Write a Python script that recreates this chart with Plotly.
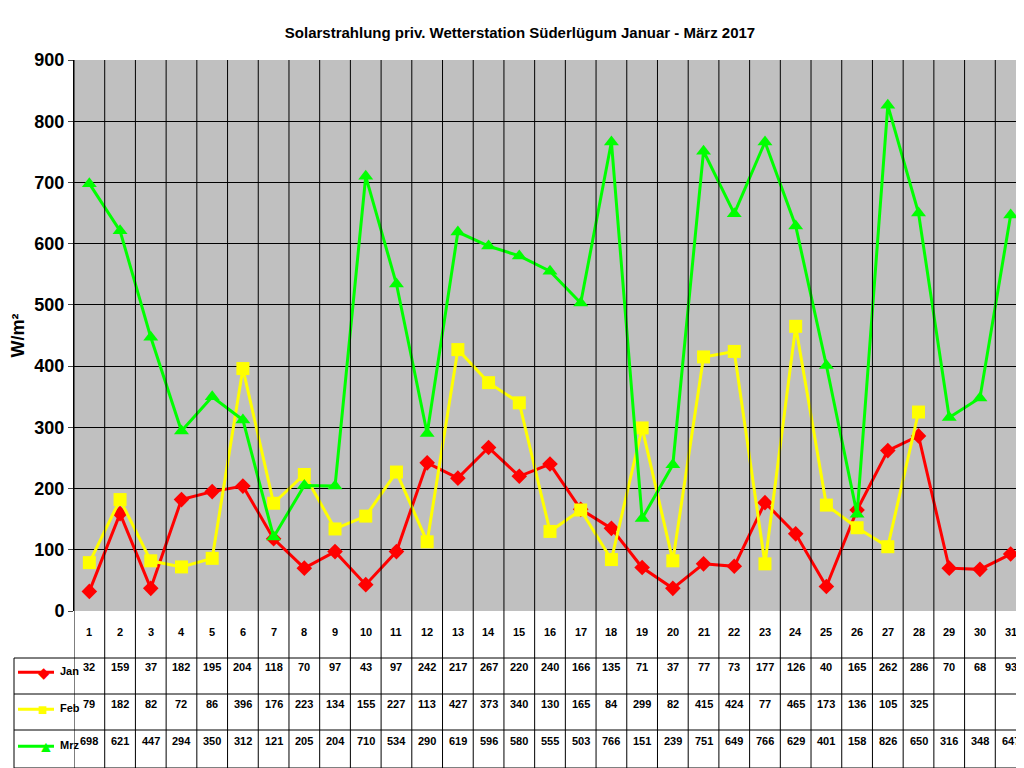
import plotly.graph_objects as go

days = list(range(1, 32))
jan = [32,159,37,182,195,204,118,70,97,43,97,242,217,267,220,240,166,135,71,37,77,73,177,126,40,165,262,286,70,68,93]
feb = [79,182,82,72,86,396,176,223,134,155,227,113,427,373,340,130,165,84,299,82,415,424,77,465,173,136,105,325]
mrz = [698,621,447,294,350,312,121,205,204,710,534,290,619,596,580,555,503,766,151,239,751,649,766,629,401,158,826,650,316,348,647]

series = [("Jan", jan, "#ff0000", "diamond", "◆", 12),
          ("Feb", feb, "#ffff00", "square", "■", 13),
          ("Mrz", mrz, "#00ff00", "triangle-up", "▲", 13)]

fig = go.Figure()
for name, vals, col, sym, _, sz in series:
    fig.add_trace(go.Scatter(x=days[:len(vals)], y=vals, mode="lines+markers", name=name,
                             line=dict(color=col, width=3),
                             marker=dict(symbol=sym, size=sz, color=col), showlegend=False))

def px2y(p):
    return (603 - p) / 551
def px2x(p):
    return (p - 66) / 952

shapes = []
yb = px2y(760)
for i in range(32):
    shapes.append(dict(type="line", xref="x", yref="paper", x0=i + 0.5, x1=i + 0.5,
                       y0=yb, y1=1, line=dict(color="black", width=1)))
for p in [650, 686, 722, 760]:
    shapes.append(dict(type="line", xref="paper", yref="paper", x0=px2x(6), x1=1,
                       y0=px2y(p), y1=px2y(p), line=dict(color="black", width=1)))
shapes.append(dict(type="line", xref="paper", yref="paper", x0=px2x(6), x1=px2x(6),
                   y0=yb, y1=px2y(650), line=dict(color="black", width=1)))

ann = []
f = dict(family="Arial", size=11, color="black")
for d in days:
    ann.append(dict(x=d, y=px2y(632), xref="x", yref="paper", text="<b>%d</b>" % d,
                    showarrow=False, font=f))
rows = [667, 704, 741]
for (name, vals, col, sym, glyph, sz), rp in zip(series, rows):
    yy = px2y(rp)
    for d, v in zip(days, vals):
        ann.append(dict(x=d, y=yy, xref="x", yref="paper", text="<b>%d</b>" % v,
                        showarrow=False, font=f))
    shapes.append(dict(type="line", xref="paper", yref="paper", x0=px2x(10), x1=px2x(46),
                       y0=yy + 0.005, y1=yy + 0.005, line=dict(color=col, width=3)))
    ann.append(dict(x=px2x(28), y=yy + 0.005, xref="paper", yref="paper", text=glyph,
                    showarrow=False, font=dict(size=sz + 3, color=col), yanchor="middle"))
    ann.append(dict(x=px2x(50), y=yy - 0.008, xref="paper", yref="paper", text="<b>%s</b>" % name,
                    showarrow=False, xanchor="left", font=f))

fig.update_layout(
    width=1024, height=768, paper_bgcolor="white", plot_bgcolor="#c0c0c0",
    margin=dict(l=66, r=6, t=52, b=165, autoexpand=False),
    title=dict(text="<b>Solarstrahlung priv. Wetterstation Süderlügum Januar - März 2017</b>",
               x=0.5, xanchor="center", y=0.975, font=dict(family="Arial", size=15, color="black")),
    xaxis=dict(range=[0.5, 31.5], showticklabels=False, showgrid=False, zeroline=False,
               showline=False, ticks="", automargin=False),
    yaxis=dict(range=[0, 900], dtick=100, showgrid=True, gridcolor="black", gridwidth=1,
               zeroline=False, showline=True, linecolor="black", ticks="outside", ticklen=5,
               automargin=False,
               tickfont=dict(family="Arial", size=18, color="black"),
               title=dict(text="<b>W/m²</b>", font=dict(family="Arial", size=18, color="black"), standoff=8)),
    shapes=shapes, annotations=ann,
)
fig.update_yaxes(tickprefix="<b>", ticksuffix="</b>")
fig.write_html("out.html")
